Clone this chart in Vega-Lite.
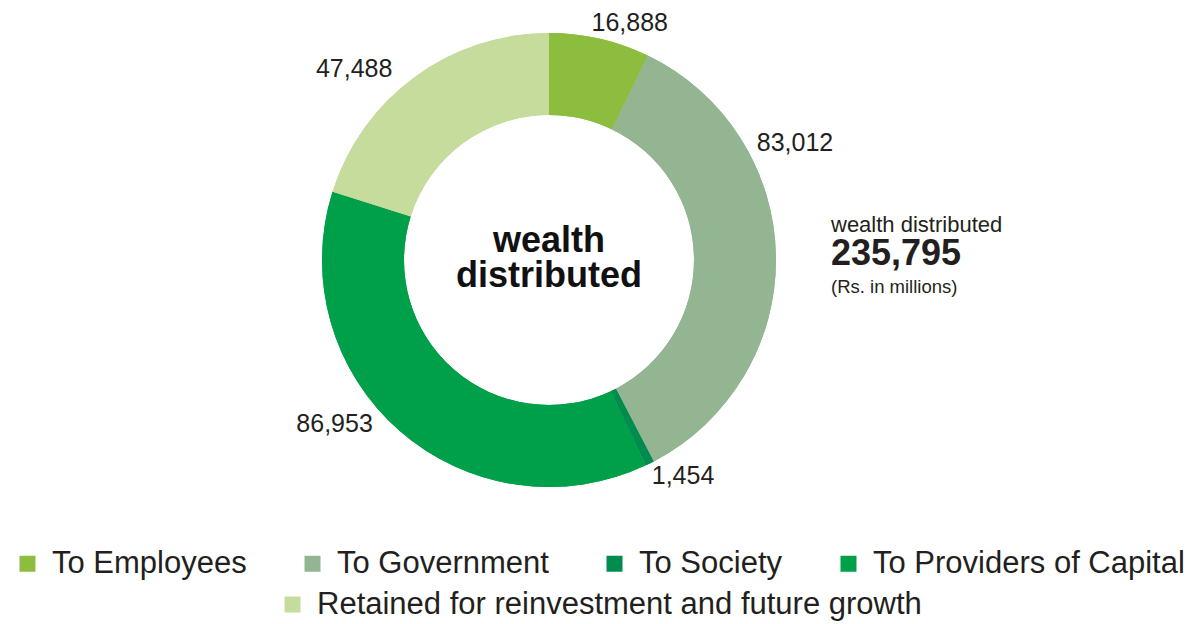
{
  "$schema": "https://vega.github.io/schema/vega-lite/v6.json",
  "width": 1098,
  "height": 520,
  "padding": {"left": 0, "top": 0, "right": 91, "bottom": 104},
  "autosize": {"type": "none"},
  "background": "white",
  "config": {
    "view": {"stroke": null},
    "legend": {
      "symbolType": "square",
      "symbolSize": 256,
      "symbolStrokeWidth": 0,
      "labelFontSize": 31,
      "labelFont": "Liberation Sans",
      "labelColor": "#231f20",
      "labelOffset": 9,
      "columnPadding": 50,
      "labelLimit": 1000,
      "padding": 0,
      "title": null
    }
  },
  "data": {
    "values": [
      {"idx": 1, "category": "To Employees", "value": 16888},
      {"idx": 2, "category": "To Government", "value": 83012},
      {"idx": 3, "category": "To Society", "value": 1454},
      {"idx": 4, "category": "To Providers of Capital", "value": 86953},
      {"idx": 5, "category": "Retained for reinvestment and future growth", "value": 47488}
    ]
  },
  "layer": [
    {
      "mark": {"type": "arc", "radius": 227, "innerRadius": 145},
      "encoding": {
        "theta": {"field": "value", "type": "quantitative", "stack": true},
        "order": {"field": "idx", "type": "quantitative"},
        "color": {
          "field": "category",
          "type": "nominal",
          "scale": {
            "domain": ["To Employees", "To Government", "To Society", "To Providers of Capital", "Retained for reinvestment and future growth"],
            "range": ["#8dbd3f", "#93b592", "#008b4f", "#00a04a", "#c5dc9c"]
          },
          "legend": {
            "values": ["To Employees", "To Government", "To Society", "To Providers of Capital"],
            "orient": "none",
            "direction": "horizontal",
            "legendX": 12,
            "legendY": 548
          }
        }
      }
    },
    {
      "mark": {"type": "arc", "radius": 227, "innerRadius": 145},
      "encoding": {
        "theta": {"field": "value", "type": "quantitative", "stack": true},
        "order": {"field": "idx", "type": "quantitative"},
        "color": {
          "field": "category",
          "type": "nominal",
          "legend": {
            "values": ["Retained for reinvestment and future growth"],
            "orient": "none",
            "direction": "horizontal",
            "legendX": 277,
            "legendY": 589
          }
        }
      }
    },
    {
      "mark": {"type": "text", "radius": 250, "dx": 25, "dy": 7, "fontSize": 25, "font": "Liberation Sans", "color": "#231f20", "align": "center", "baseline": "middle"},
      "encoding": {
        "theta": {"field": "value", "type": "quantitative", "stack": true},
        "order": {"field": "idx", "type": "quantitative"},
        "detail": {"field": "category", "type": "nominal"},
        "text": {"condition": {"test": "datum.idx === 1", "field": "value", "type": "quantitative", "format": ","}, "value": ""}
      }
    },
    {
      "mark": {"type": "text", "radius": 250, "dx": -4, "dy": -113, "fontSize": 25, "font": "Liberation Sans", "color": "#231f20", "align": "center", "baseline": "middle"},
      "encoding": {
        "theta": {"field": "value", "type": "quantitative", "stack": true},
        "order": {"field": "idx", "type": "quantitative"},
        "detail": {"field": "category", "type": "nominal"},
        "text": {"condition": {"test": "datum.idx === 2", "field": "value", "type": "quantitative", "format": ","}, "value": ""}
      }
    },
    {
      "mark": {"type": "text", "radius": 250, "dx": 23, "dy": -8, "fontSize": 25, "font": "Liberation Sans", "color": "#231f20", "align": "center", "baseline": "middle"},
      "encoding": {
        "theta": {"field": "value", "type": "quantitative", "stack": true},
        "order": {"field": "idx", "type": "quantitative"},
        "detail": {"field": "category", "type": "nominal"},
        "text": {"condition": {"test": "datum.idx === 3", "field": "value", "type": "quantitative", "format": ","}, "value": ""}
      }
    },
    {
      "mark": {"type": "text", "radius": 250, "dx": -50, "dy": -24, "fontSize": 25, "font": "Liberation Sans", "color": "#231f20", "align": "center", "baseline": "middle"},
      "encoding": {
        "theta": {"field": "value", "type": "quantitative", "stack": true},
        "order": {"field": "idx", "type": "quantitative"},
        "detail": {"field": "category", "type": "nominal"},
        "text": {"condition": {"test": "datum.idx === 4", "field": "value", "type": "quantitative", "format": ","}, "value": ""}
      }
    },
    {
      "mark": {"type": "text", "radius": 250, "dx": -47, "dy": 11, "fontSize": 25, "font": "Liberation Sans", "color": "#231f20", "align": "center", "baseline": "middle"},
      "encoding": {
        "theta": {"field": "value", "type": "quantitative", "stack": true},
        "order": {"field": "idx", "type": "quantitative"},
        "detail": {"field": "category", "type": "nominal"},
        "text": {"condition": {"test": "datum.idx === 5", "field": "value", "type": "quantitative", "format": ","}, "value": ""}
      }
    },
    {
      "transform": [{"aggregate": [{"op": "sum", "field": "value", "as": "total"}]}],
      "mark": {"type": "text", "dy": -8, "fontSize": 36, "fontWeight": "bold", "letterSpacing": 1.5, "font": "Liberation Sans", "color": "#111111", "align": "center", "baseline": "alphabetic"},
      "encoding": {"text": {"value": "wealth"}}
    },
    {
      "transform": [{"aggregate": [{"op": "sum", "field": "value", "as": "total"}]}],
      "mark": {"type": "text", "dy": 27, "fontSize": 36, "fontWeight": "bold", "letterSpacing": 1.5, "font": "Liberation Sans", "color": "#111111", "align": "center", "baseline": "alphabetic"},
      "encoding": {"text": {"value": "distributed"}}
    },
    {
      "transform": [{"aggregate": [{"op": "sum", "field": "value", "as": "total"}]}],
      "mark": {"type": "text", "dx": 282, "dy": -28, "fontSize": 22, "letterSpacing": 0.9, "font": "Liberation Sans", "color": "#231f20", "align": "left", "baseline": "alphabetic"},
      "encoding": {"text": {"value": "wealth distributed"}}
    },
    {
      "transform": [{"aggregate": [{"op": "sum", "field": "value", "as": "total"}]}],
      "mark": {"type": "text", "dx": 282, "dy": 5, "fontSize": 36, "fontWeight": "bold", "letterSpacing": 3, "font": "Liberation Sans", "color": "#231f20", "align": "left", "baseline": "alphabetic"},
      "encoding": {"text": {"field": "total", "type": "quantitative", "format": ","}}
    },
    {
      "transform": [{"aggregate": [{"op": "sum", "field": "value", "as": "total"}]}],
      "mark": {"type": "text", "dx": 282, "dy": 33, "fontSize": 18.5, "font": "Liberation Sans", "color": "#231f20", "align": "left", "baseline": "alphabetic"},
      "encoding": {"text": {"value": "(Rs. in millions)"}}
    }
  ],
  "resolve": {"legend": {"color": "independent"}}
}
